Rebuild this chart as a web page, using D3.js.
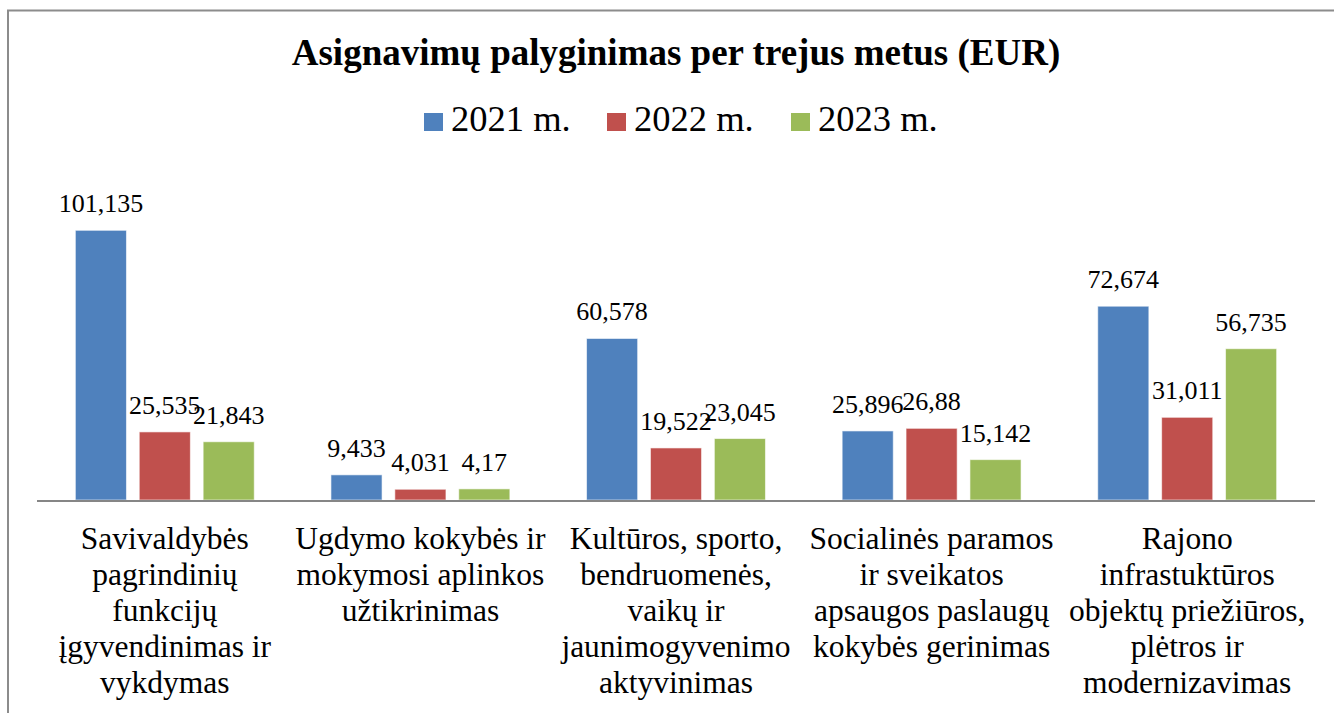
<!DOCTYPE html>
<meta charset="utf-8">
<style>
  body { margin: 0; background: #fff; }
</style>
<body>
<div id="chart"></div>
<script src="https://d3js.org/d3.v7.min.js"></script>
<script>

// Categories (each split into the lines shown under the axis)
var categories = [
  ["Savivaldybės", "pagrindinių", "funkcijų", "įgyvendinimas ir", "vykdymas"],
  ["Ugdymo kokybės ir", "mokymosi aplinkos", "užtikrinimas"],
  ["Kultūros, sporto,", "bendruomenės,", "vaikų ir", "jaunimogyvenimo", "aktyvinimas"],
  ["Socialinės paramos", "ir sveikatos", "apsaugos paslaugų", "kokybės gerinimas"],
  ["Rajono", "infrastuktūros", "objektų priežiūros,", "plėtros ir", "modernizavimas"]
];
var seriesNames = ["2021 m.", "2022 m.", "2023 m."];
var colors = ["#4F81BD", "#C0504D", "#9BBB59"];

// Values, thousands EUR
var v2021 = [101.135, 9.433, 60.578, 25.896, 72.674];
var v2022 = [25.535, 4.031, 19.522, 26.88, 31.011];
var v2023 = [21.843, 4.17, 23.045, 15.142, 56.735];
var series = [v2021, v2022, v2023];

var width = 1334, height = 713;
var serif = "Liberation Serif";

var svg = d3.select("#chart").append("svg")
  .attr("width", width)
  .attr("height", height)
  .attr("font-family", serif)
  .style("display", "block");

// chart frame
svg.append("rect")
  .attr("x", 8).attr("y", 10.5)
  .attr("width", 1400).attr("height", 800)
  .attr("fill", "none")
  .attr("stroke", "#8c8c8c")
  .attr("stroke-width", 2);

// title
svg.append("text")
  .attr("x", 676).attr("y", 65)
  .attr("text-anchor", "middle")
  .attr("font-size", 37)
  .attr("font-weight", "bold")
  .text("Asignavimų palyginimas per trejus metus (EUR)");

// legend
var legendX = [424, 607, 791];
var legend = svg.selectAll(".legend")
  .data(seriesNames)
  .enter().append("g")
    .attr("transform", function(d, i) { return "translate(" + legendX[i] + ",0)"; });
legend.append("rect")
  .attr("x", 0).attr("y", 113)
  .attr("width", 19).attr("height", 18)
  .attr("fill", function(d, i) { return colors[i]; });
legend.append("text")
  .attr("x", 27).attr("y", 131)
  .attr("font-size", 36.5)
  .text(function(d) { return d; });

// scales
var x0 = d3.scaleBand()
  .domain(d3.range(categories.length))
  .range([37, 1315]);

var x1 = d3.scaleBand()
  .domain(d3.range(seriesNames.length))
  .range([0, x0.bandwidth()])
  .paddingInner(0.2)
  .paddingOuter(0.6);

var y = d3.scaleLinear()
  .domain([0, 120])
  .range([500, 180]);

var fmt = function(v) { return String(v).replace(".", ","); };

// bars
var groups = svg.selectAll(".group")
  .data(categories)
  .enter().append("g")
    .attr("transform", function(d, i) { return "translate(" + x0(i) + ",0)"; });

groups.selectAll("rect")
  .data(function(d, i) { return series.map(function(s, j) { return {s: j, v: s[i]}; }); })
  .enter().append("rect")
    .attr("x", function(d) { return x1(d.s); })
    .attr("y", function(d) { return y(d.v); })
    .attr("width", x1.bandwidth())
    .attr("height", function(d) { return y(0) - y(d.v); })
    .attr("fill", function(d) { return colors[d.s]; })
    .attr("stroke", "rgba(255,255,255,0.6)")
    .attr("stroke-width", 1);

groups.selectAll(".val")
  .data(function(d, i) { return series.map(function(s, j) { return {s: j, v: s[i]}; }); })
  .enter().append("text")
    .attr("x", function(d) { return x1(d.s) + x1.bandwidth() / 2; })
    .attr("y", function(d) { return y(d.v) - 18; })
    .attr("text-anchor", "middle")
    .attr("font-size", 26)
    .text(function(d) { return fmt(d.v); });

// x axis line
svg.append("line")
  .attr("x1", 37).attr("x2", 1315)
  .attr("y1", y(0) + 1).attr("y2", y(0) + 1)
  .attr("stroke", "#868686")
  .attr("stroke-width", 2);

// category labels
var lbl = svg.selectAll(".cat")
  .data(categories)
  .enter().append("text")
    .attr("text-anchor", "middle")
    .attr("font-size", 31.5)
    .attr("transform", function(d, i) { return "translate(" + (x0(i) + x0.bandwidth() / 2) + ",549)"; });
lbl.selectAll("tspan")
  .data(function(d) { return d; })
  .enter().append("tspan")
    .attr("x", 0)
    .attr("y", function(d, i) { return i * 36; })
    .text(function(d) { return d; });

</script>
</body>
